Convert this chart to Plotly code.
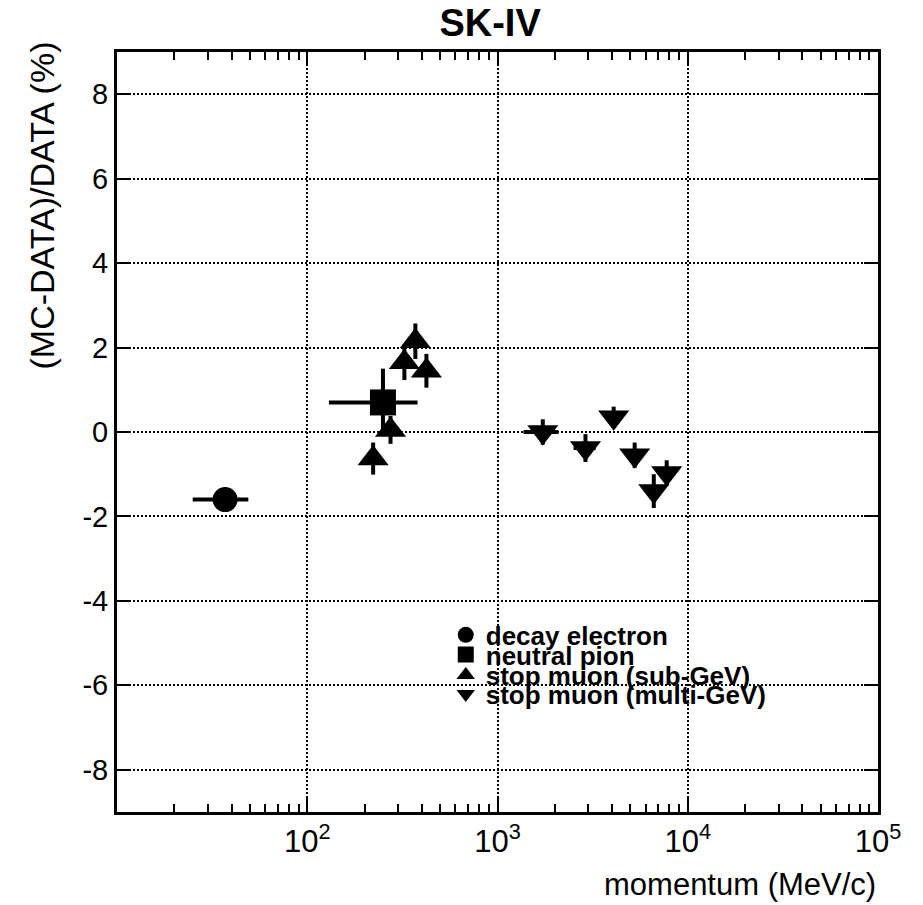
import plotly.graph_objects as go

# ---------------- data ----------------
elec_x = [37]
elec_y = [-1.6]
elec_xlo = [25]
elec_xhi = [49]
elec_yerr = [0.1]

pion_x = [250]
pion_y = [0.7]
pion_xlo = [130]
pion_xhi = [380]
pion_yerr = [0.8]

sub_x = [222, 274, 324, 370, 423]
sub_y = [-0.63, 0.05, 1.65, 2.15, 1.45]
sub_yerr = [0.38, 0.33, 0.42, 0.42, 0.4]

multi_x = [1730, 2900, 4080, 5260, 6630, 7750]
multi_y = [0.0, -0.38, 0.35, -0.55, -1.4, -0.97]
multi_xlo = [1370, 2510, 3800, 4900, 6150, 7200]
multi_xhi = [2090, 3280, 4380, 5650, 7100, 8350]
multi_yerr = [0.3, 0.33, 0.25, 0.3, 0.4, 0.3]

names = ["decay electron", "neutral pion", "stop muon (sub-GeV)", "stop muon (multi-GeV)"]

x_tickvals = [100, 1000, 10000, 100000]
x_ticktext = ["10<sup>2</sup>", "10<sup>3</sup>", "10<sup>4</sup>", "10<sup>5</sup>"]
decades = [10, 100, 1000, 10000]
minor_mult = [2, 3, 4, 5, 6, 7, 8, 9]
y_tickvals = [-8, -6, -4, -2, 0, 2, 4, 6, 8]
y_ticktext = ["-8", "-6", "-4", "-2", "0", "2", "4", "6", "8"]

FONT = "Liberation Sans, Arial, Helvetica, sans-serif"

def xerr(x, lo, hi):
    return dict(type="data", symmetric=False,
                array=[h - v for v, h in zip(x, hi)],
                arrayminus=[v - l for v, l in zip(x, lo)],
                thickness=4, width=0, color="black", visible=True)

def yerr(e):
    return dict(type="data", array=e, thickness=4, width=0, color="black", visible=True)

fig = go.Figure()
fig.add_trace(go.Scatter(x=elec_x, y=elec_y, mode="markers", name=names[0],
                         marker=dict(symbol="circle", size=25, color="black", line=dict(width=0)),
                         error_x=xerr(elec_x, elec_xlo, elec_xhi), error_y=yerr(elec_yerr),
                         legend="legend"))
fig.add_trace(go.Scatter(x=pion_x, y=pion_y, mode="markers", name=names[1],
                         marker=dict(symbol="square", size=26, color="black", line=dict(width=0)),
                         error_x=xerr(pion_x, pion_xlo, pion_xhi), error_y=yerr(pion_yerr),
                         legend="legend2"))
fig.add_trace(go.Scatter(x=sub_x, y=sub_y, mode="markers", name=names[2],
                         marker=dict(symbol="triangle-up", size=27, color="black", line=dict(width=0)),
                         error_y=yerr(sub_yerr),
                         legend="legend3"))
fig.add_trace(go.Scatter(x=multi_x, y=multi_y, mode="markers", name=names[3],
                         marker=dict(symbol="triangle-down", size=27, color="black", line=dict(width=0)),
                         error_x=xerr(multi_x, multi_xlo, multi_xhi), error_y=yerr(multi_yerr),
                         legend="legend4"))

leg_font = dict(family=FONT, size=26, color="black", weight="bold")
leg_x = 0.432
leg_ys = [0.233, 0.207, 0.180, 0.155]
legend_common = dict(x=leg_x, xanchor="left", yanchor="middle", bgcolor="rgba(0,0,0,0)",
                     borderwidth=0, font=leg_font, itemwidth=30)

minor_vals = [d * m for d in decades for m in minor_mult]

fig.update_layout(
    width=923, height=905,
    margin=dict(l=117, r=45, t=52, b=93),
    paper_bgcolor="white", plot_bgcolor="white",
    font=dict(family=FONT, color="black"),
    showlegend=True,
    legend=dict(y=leg_ys[0], **legend_common),
    legend2=dict(y=leg_ys[1], **legend_common),
    legend3=dict(y=leg_ys[2], **legend_common),
    legend4=dict(y=leg_ys[3], **legend_common),
    title=dict(text="SK-IV", x=0.531, xanchor="center", y=0.975, yanchor="middle",
               font=dict(family=FONT, size=38, weight="bold", color="black")),
    xaxis=dict(type="log", range=[1, 5], tickmode="array", tickvals=x_tickvals, ticktext=x_ticktext,
               ticks="inside", ticklen=14, tickwidth=2, tickcolor="black",
               showline=True, linewidth=3, linecolor="black", mirror="allticks",
               showgrid=True, gridcolor="black", gridwidth=2, griddash="2px,2px",
               minor=dict(tickmode="array", tickvals=minor_vals, ticks="inside", ticklen=8,
                          tickwidth=2, tickcolor="black", showgrid=False),
               tickfont=dict(family=FONT, size=31, color="black"), zeroline=False),
    yaxis=dict(range=[-9, 9], tickmode="array", tickvals=y_tickvals, ticktext=y_ticktext,
               ticks="inside", ticklen=14, tickwidth=2, tickcolor="black",
               showline=True, linewidth=3, linecolor="black", mirror="allticks",
               showgrid=True, gridcolor="black", gridwidth=2, griddash="2px,2px",
               tickfont=dict(family=FONT, size=29, color="black"), zeroline=False),
    annotations=[
        dict(text="(MC-DATA)/DATA (%)", textangle=-90, xref="paper", yref="paper",
             x=-0.099, xanchor="center", y=1.016, yanchor="top", showarrow=False,
             font=dict(family=FONT, size=34, color="black")),
        dict(text="momentum (MeV/c)", xref="paper", yref="paper",
             x=1.0, xanchor="right", y=-0.096, yanchor="middle", showarrow=False,
             font=dict(family=FONT, size=31, color="black")),
    ],
)

fig.write_html("out.html")
